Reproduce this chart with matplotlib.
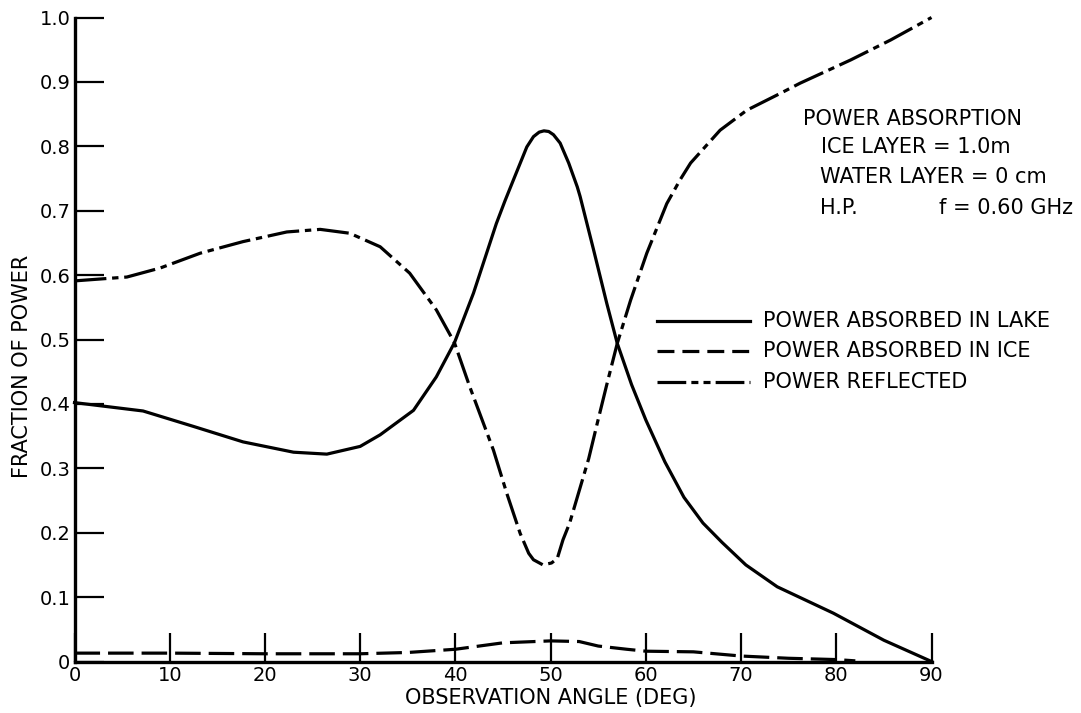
import matplotlib
matplotlib.use('Agg')
import matplotlib.pyplot as plt

# ---- valeurs ----
# puissance absorbee dans le lac (trait plein)
angle_lac = [0, 7.2, 12.5, 17.7, 23.0, 26.5, 30.0, 32.1, 35.6, 38.0, 39.9, 41.9, 44.3,
             45.2, 46.1, 47.5, 48.2, 48.8, 49.3, 49.8, 50.3, 51.0, 51.9, 52.8, 53.1,
             54.5, 55.9, 57.0, 58.5, 60.0, 62.0, 64.0, 66.0, 68.0, 70.5, 73.8, 79.7,
             85.0, 90]
puiss_lac = [0.402, 0.389, 0.365, 0.341, 0.325, 0.322, 0.334, 0.352, 0.390, 0.442, 0.495,
             0.572, 0.680, 0.715, 0.748, 0.799, 0.815, 0.822, 0.824, 0.823, 0.818, 0.805,
             0.774, 0.737, 0.722, 0.640, 0.556, 0.494, 0.430, 0.375, 0.310, 0.255, 0.215,
             0.185, 0.150, 0.116, 0.075, 0.033, 0.0]

# puissance reflechie (tirets longs et courts)
angle_refl = [0, 5.5, 9.0, 13.2, 17.7, 22.3, 25.8, 28.9, 32.1, 35.2, 38.0, 39.9, 41.5,
              44.0, 45.4, 46.8, 47.7, 48.2, 49.2, 50.1, 50.7, 51.3, 52.0, 53.1, 54.0,
              54.9, 55.9, 57.0, 58.4, 60.1, 62.2, 63.6, 64.7, 67.8, 70.6, 74.1, 76.2,
              81.5, 85.7, 90]
puiss_refl = [0.591, 0.597, 0.611, 0.634, 0.652, 0.667, 0.671, 0.665, 0.644, 0.603, 0.546,
              0.495, 0.427, 0.328, 0.261, 0.199, 0.168, 0.158, 0.150, 0.153, 0.160, 0.189,
              0.215, 0.270, 0.315, 0.370, 0.430, 0.494, 0.561, 0.634, 0.711, 0.748, 0.774,
              0.825, 0.856, 0.882, 0.898, 0.934, 0.965, 1.0]

# puissance absorbee dans la glace (tirets)
angle_glace = [0, 10, 20, 30, 35, 40, 45, 50, 53, 55, 58, 60, 65, 70, 75, 80, 82]
puiss_glace = [0.013, 0.013, 0.012, 0.012, 0.014, 0.019, 0.029, 0.032, 0.031, 0.024,
               0.019, 0.016, 0.015, 0.0085, 0.005, 0.003, 0.001]

xticks = [0, 10, 20, 30, 40, 50, 60, 70, 80, 90]
yticks = [0, 0.1, 0.2, 0.3, 0.4, 0.5, 0.6, 0.7, 0.8, 0.9, 1.0]
ylabels = ['0', '0.1', '0.2', '0.3', '0.4', '0.5', '0.6', '0.7', '0.8', '0.9', '1.0']

W, H = 1081, 713
fig = plt.figure(figsize=(W / 100, H / 100), dpi=100)
ax = fig.add_axes([74.5 / W, 1 - 661.5 / H, (931.5 - 74.5) / W, (661.5 - 17.5) / H])

lw = 2.3
ax.plot(angle_lac, puiss_lac, color='black', lw=lw, clip_on=False,
        solid_joinstyle='round')
ax.plot(angle_glace, puiss_glace, color='black', lw=lw, dashes=(8, 2.5), clip_on=False)
ax.plot(angle_refl, puiss_refl, color='black', lw=lw, dashes=(10, 1.8, 2, 1.8),
        clip_on=False)

ax.set_xlim(0, 90)
ax.set_ylim(0, 1.0)
ax.spines['top'].set_visible(False)
ax.spines['right'].set_visible(False)
ax.spines['left'].set_linewidth(2.4)
ax.spines['bottom'].set_linewidth(2.4)

fs = 15
ax.set_xticks(xticks)
ax.set_yticks(yticks)
ax.set_yticklabels(ylabels)
ax.tick_params(direction='in', length=21, width=1.6, labelsize=14, pad=3)

ax.set_xlabel('OBSERVATION ANGLE (DEG)', fontsize=fs, va='center')
ax.xaxis.set_label_coords(50, -0.057, transform=ax.get_xaxis_transform())
ax.set_ylabel('FRACTION OF POWER', fontsize=fs, va='center')
ax.yaxis.set_label_coords(-0.061, 0.459)

# --- texte d'annotation ---
fig.text(803 / W, 1 - 119 / H, 'POWER ABSORPTION', fontsize=fs, va='center')
fig.text(821 / W, 1 - 147 / H, 'ICE LAYER = 1.0m', fontsize=fs, va='center')
fig.text(820 / W, 1 - 177 / H, 'WATER LAYER = 0 cm', fontsize=fs, va='center')
fig.text(820 / W, 1 - 208 / H, 'H.P.', fontsize=fs, va='center')
fig.text(1073 / W, 1 - 208 / H, 'f = 0.60 GHz', fontsize=fs, va='center', ha='right')

# --- legende dessinee a la main ---
legende = [('POWER ABSORBED IN LAKE', None, 321),
           ('POWER ABSORBED IN ICE', (5.3, 2.5), 351),
           ('POWER REFLECTED', (9, 1.6, 2.2, 1.6, 2.2, 1.6), 382)]
for texte, tirets, ypix in legende:
    yy = 1 - ypix / H
    ligne = plt.Line2D([657 / W, 750 / W], [yy, yy], transform=fig.transFigure,
                       color='black', lw=lw)
    if tirets:
        ligne.set_dashes(tirets)
    fig.add_artist(ligne)
    fig.text(763 / W, yy, texte, fontsize=fs, va='center')

fig.savefig('out.png', dpi=100)
